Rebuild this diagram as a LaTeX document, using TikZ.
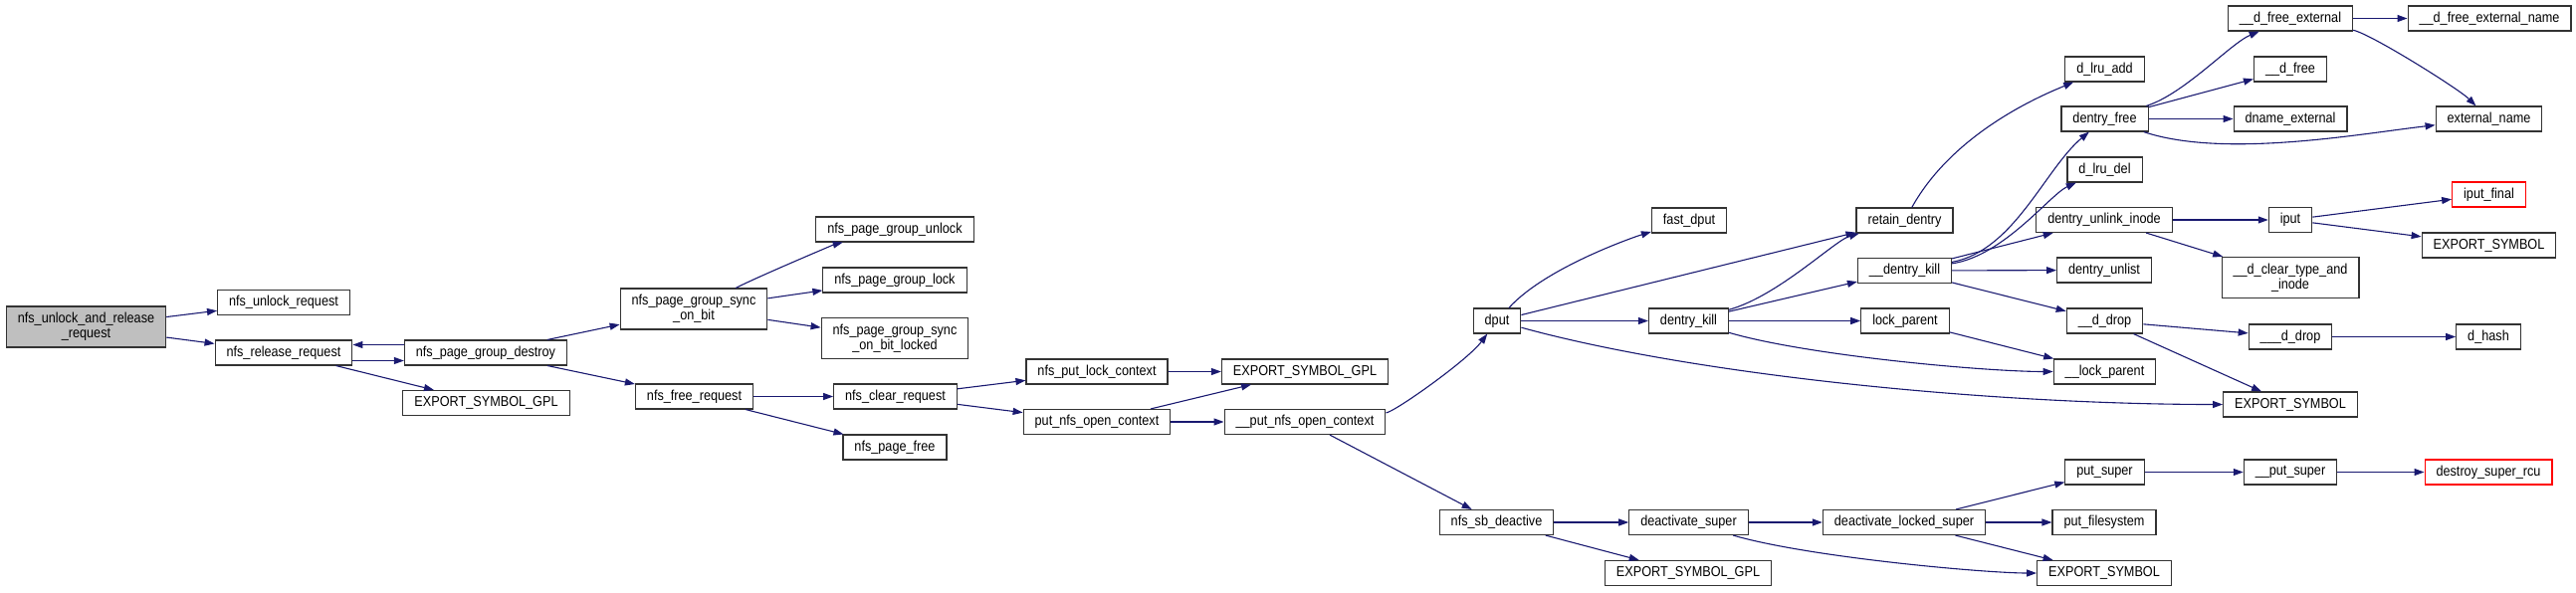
\documentclass[tikz,border=0pt]{standalone}
\usepackage{fontspec}
\usepackage{xcolor}
\newfontfamily\graphfont{Liberation Sans}[FakeStretch=0.88]
\usetikzlibrary{arrows.meta}

\definecolor{edgeblue}{HTML}{191970}
\definecolor{boxline}{HTML}{333333}
\definecolor{rootfill}{HTML}{BFBFBF}
\newcommand{\fnfont}{\graphfont\fontsize{14.4pt}{15pt}\selectfont}

\begin{document}
\begin{tikzpicture}[x=1pt, y=-1pt,
  fn/.style={draw=boxline, line width=1.1pt, fill=white, font=\fnfont, align=center,
    inner xsep=11.5pt, inner ysep=3pt, minimum height=25pt},
  tall/.style={fn, minimum height=41pt},
  rootfn/.style={tall, fill=rootfill},
  trunc/.style={fn, draw=red},
  arr/.style={draw=edgeblue, line width=1.1pt, -{Triangle[length=10pt,width=7pt]}}
]
\useasboundingbox (0,0) rectangle (2588,595);

% callers side
\node[rootfn] (unlockrel) at (86.5,328.5) {nfs\_unlock\_and\_release\\\_request};
\node[fn] (unlockreq) at (285,304) {nfs\_unlock\_request};
\node[fn] (releasereq) at (285,354.5) {nfs\_release\_request};
\node[fn] (pgdestroy) at (488,354.5) {nfs\_page\_group\_destroy};
\node[fn] (gplA) at (488.5,405) {EXPORT\_SYMBOL\_GPL};
\node[tall] (syncbit) at (697,310.5) {nfs\_page\_group\_sync\\\_on\_bit};
\node[fn] (freereq) at (697.5,398.5) {nfs\_free\_request};
\node[fn] (pgunlock) at (899,230.5) {nfs\_page\_group\_unlock};
\node[fn] (pglock) at (899,281.5) {nfs\_page\_group\_lock};
\node[tall] (syncbitlocked) at (899,340) {nfs\_page\_group\_sync\\\_on\_bit\_locked};
\node[fn] (clearreq) at (899.5,398.5) {nfs\_clear\_request};
\node[fn] (pagefree) at (899,449.5) {nfs\_page\_free};
\node[fn] (putlockctx) at (1102,373.5) {nfs\_put\_lock\_context};
\node[fn] (putopenctx) at (1102,424) {put\_nfs\_open\_context};
\node[fn] (gplB) at (1311,373.5) {EXPORT\_SYMBOL\_GPL};
\node[fn] (uputopenctx) at (1311,424) {\_\_put\_nfs\_open\_context};

% dentry / super side
\node[fn] (dput) at (1504,322.5) {dput};
\node[fn] (sbdeactive) at (1503.5,525) {nfs\_sb\_deactive};
\node[fn] (fastdput) at (1697,221.5) {fast\_dput};
\node[fn] (dentrykill) at (1696.5,322.5) {dentry\_kill};
\node[fn] (deactsuper) at (1696.5,525) {deactivate\_super};
\node[fn] (gplC) at (1696,576) {EXPORT\_SYMBOL\_GPL};
\node[fn] (retain) at (1913.5,221.5) {retain\_dentry};
\node[fn] (udentrykill) at (1913.5,272) {\_\_dentry\_kill};
\node[fn] (lockparent) at (1914,322.5) {lock\_parent};
\node[fn] (deactlocked) at (1913,525) {deactivate\_locked\_super};
\node[fn] (lruadd) at (2114.5,69.5) {d\_lru\_add};
\node[fn] (dentryfree) at (2114.5,119.5) {dentry\_free};
\node[fn] (lrudel) at (2114.5,170.5) {d\_lru\_del};
\node[fn] (unlinkinode) at (2114,221) {dentry\_unlink\_inode};
\node[fn] (unlist) at (2114,271.5) {dentry\_unlist};
\node[fn] (uddrop) at (2114.5,322.5) {\_\_d\_drop};
\node[fn] (ulockparent) at (2114.5,373.5) {\_\_lock\_parent};
\node[fn] (putsuper) at (2114.5,474.5) {put\_super};
\node[fn] (putfs) at (2114,525) {put\_filesystem};
\node[fn] (symA) at (2114,576) {EXPORT\_SYMBOL};
\node[fn] (udfreeext) at (2301,18.5) {\_\_d\_free\_external};
\node[fn] (udfree) at (2301,69.5) {\_\_d\_free};
\node[fn] (dnameext) at (2301,119.5) {dname\_external};
\node[fn] (iput) at (2301,221) {iput};
\node[tall] (uclear) at (2301,279) {\_\_d\_clear\_type\_and\\\_inode};
\node[fn] (uuddrop) at (2301,338.5) {\_\_\_d\_drop};
\node[fn] (symB) at (2301,406.5) {EXPORT\_SYMBOL};
\node[fn] (uputsuper) at (2301,474.5) {\_\_put\_super};
\node[fn] (udfreeextname) at (2501,18.5) {\_\_d\_free\_external\_name};
\node[fn] (extname) at (2500.5,119.5) {external\_name};
\node[trunc] (iputfinal) at (2500.5,195.5) {iput\_final};
\node[fn] (symC) at (2500.5,246.5) {EXPORT\_SYMBOL};
\node[fn] (dhash) at (2500,338.5) {d\_hash};
\node[trunc] (destroyrcu) at (2500,474.5) {destroy\_super\_rcu};

% edges
\draw[arr] (unlockrel) -- (unlockreq);
\draw[arr] (unlockrel) -- (releasereq);
\draw[arr] ([yshift=-8pt]releasereq.east) -- ([yshift=-8pt]pgdestroy.west);
\draw[arr] ([yshift=8pt]pgdestroy.west) -- ([yshift=8pt]releasereq.east);
\draw[arr] (releasereq) -- (gplA);
\draw[arr] (pgdestroy) -- (syncbit);
\draw[arr] (pgdestroy) -- (freereq);
\draw[arr] (syncbit) .. controls +(70,-35) and +(-60,15) .. (pgunlock);
\draw[arr] (syncbit) -- (pglock);
\draw[arr] (syncbit) -- (syncbitlocked);
\draw[arr] (freereq) -- (clearreq);
\draw[arr] (freereq) -- (pagefree);
\draw[arr] (clearreq) -- (putlockctx);
\draw[arr] (clearreq) -- (putopenctx);
\draw[arr] (putlockctx) -- (gplB);
\draw[arr] (putopenctx) -- (gplB);
\draw[arr] (putopenctx) -- (uputopenctx);
\draw[arr] (uputopenctx) .. controls +(90,-10) and +(-30,40) .. (dput);
\draw[arr] (uputopenctx) -- (sbdeactive);

\draw[arr] (dput) .. controls +(50,-55) and +(-50,15) .. (fastdput);
\draw[arr] (dput) -- (retain);
\draw[arr] (dput) -- (dentrykill);
\draw[arr] (dput) .. controls +(200,55) and +(-300,0) .. (symB);
\draw[arr] (dentrykill) .. controls +(90,-25) and +(-70,20) .. (retain);
\draw[arr] (dentrykill) -- (udentrykill);
\draw[arr] (dentrykill) -- (lockparent);
\draw[arr] (dentrykill) .. controls +(120,35) and +(-120,0) .. (ulockparent);
\draw[arr] (lockparent) -- (ulockparent);
\draw[arr] (retain) .. controls +(50,-90) and +(-60,25) .. (lruadd);
\draw[arr] (udentrykill) .. controls +(110,-20) and +(-60,50) .. (dentryfree);
\draw[arr] (udentrykill) .. controls +(100,-15) and +(-55,25) .. (lrudel);
\draw[arr] (udentrykill) -- (unlinkinode);
\draw[arr] (udentrykill) -- (unlist);
\draw[arr] (udentrykill) -- (uddrop);

\draw[arr] (dentryfree) .. controls +(80,-25) and +(-60,25) .. (udfreeext);
\draw[arr] (dentryfree) -- (udfree);
\draw[arr] (dentryfree) -- (dnameext);
\draw[arr] (dentryfree) .. controls +(120,40) and +(-130,15) .. (extname);
\draw[arr] (udfreeext) -- (udfreeextname);
\draw[arr] (udfreeext) .. controls +(80,15) and +(-30,-30) .. (extname);
\draw[arr] (unlinkinode) -- (iput);
\draw[arr] (unlinkinode) -- (uclear);
\draw[arr] (iput) -- (iputfinal);
\draw[arr] (iput) -- (symC);
\draw[arr] (uddrop) -- (uuddrop);
\draw[arr] (uddrop) -- (symB);
\draw[arr] (uuddrop) -- (dhash);

\draw[arr] (sbdeactive) -- (deactsuper);
\draw[arr] (sbdeactive) -- (gplC);
\draw[arr] (deactsuper) -- (deactlocked);
\draw[arr] (deactsuper) .. controls +(120,35) and +(-120,0) .. (symA);
\draw[arr] (deactlocked) -- (putsuper);
\draw[arr] (deactlocked) -- (putfs);
\draw[arr] (deactlocked) -- (symA);
\draw[arr] (putsuper) -- (uputsuper);
\draw[arr] (uputsuper) -- (destroyrcu);
\end{tikzpicture}
\end{document}
